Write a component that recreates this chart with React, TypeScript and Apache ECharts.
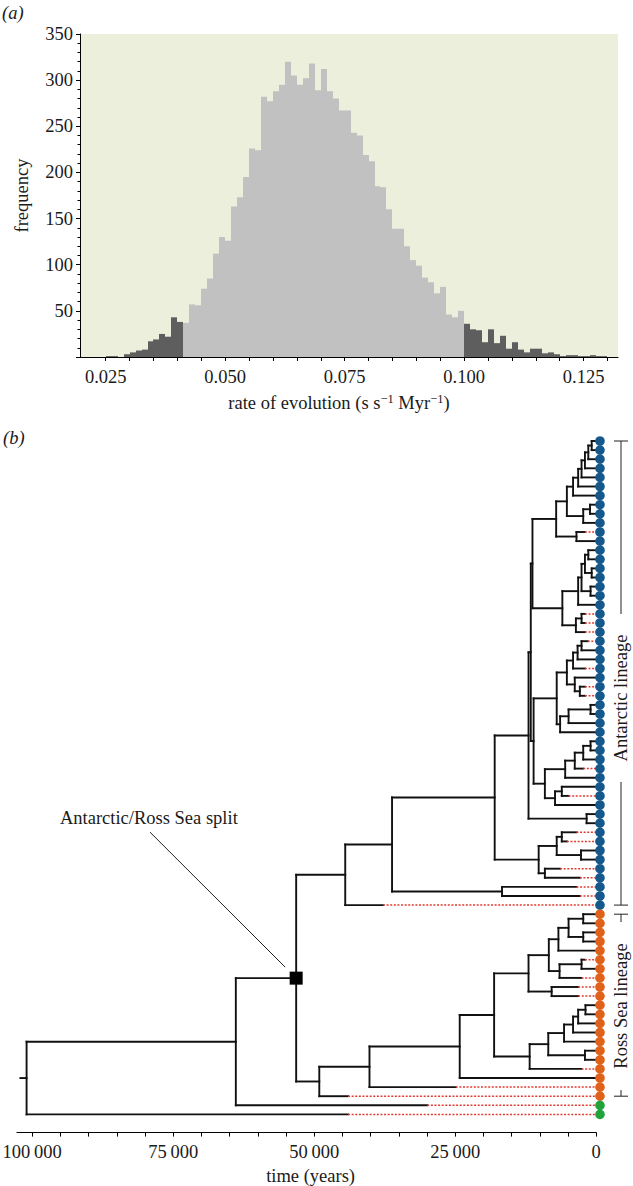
import React, { useEffect, useRef } from "react";
import * as echarts from "echarts";

// ---------- panel (a): histogram of rates ----------
const binStart = 0.025;
const binWidth = 0.00125;
const hpdLow = 0.04125;
const hpdHigh = 0.1;
const binCounts = [
  1, 1, 0, 3, 5, 7, 8, 17, 19, 25, 22, 43, 38,
  37, 57, 56, 74, 85, 112, 130, 126, 163, 173, 195, 226, 224, 282, 277, 288, 295, 320,
  305, 295, 302, 318, 289, 312, 288, 280, 267, 267, 243, 240, 219, 212, 185, 184, 160,
  139, 139, 120, 105, 99, 86, 81, 69, 76, 46, 43, 50,
  36, 30, 29, 16, 30, 15, 23, 9, 16, 8, 5, 9, 9, 4, 5, 3, 1, 2, 2, 1, 1, 2, 1, 1,
];
const rateLabels = [0.025, 0.05, 0.075, 0.1, 0.125];
const rateTicks = [0.025, 0.03, 0.035, 0.04, 0.045, 0.05, 0.055, 0.06, 0.065, 0.07, 0.075, 0.08, 0.085, 0.09, 0.095, 0.1, 0.105, 0.11, 0.115, 0.12, 0.125, 0.13];

// ---------- panel (b): dated tree ----------
const timeLabels = [0, 25000, 50000, 75000, 100000];
const timeTicks = [0, 5000, 10000, 15000, 20000, 25000, 30000, 35000, 40000, 45000, 50000, 55000, 60000, 65000, 70000, 75000, 80000, 85000, 90000, 95000, 100000];

// leaf groups, top to bottom: A = Antarctic, R = Ross Sea, O = outgroup
const leafGroups = [
  ..."AAAAAAAAAAAAAAAAAAAAAAAAAAAAAAAAAAAAAAAAAAAAAAAAAAAA",
  ..."RRRRRRRRRRRRRRRRRRRRR",
  ..."OO",
];
// sampling age of each leaf (years before present), top to bottom
const leafTips = [
  0, 0, 0, 0, 0, 0, 0, 0, 0, 0, 2000, 0, 0, 0, 0, 0, 0, 0, 0, 2000, 2000, 2000,
  1500, 0, 0, 2000, 0, 2000, 2000, 0, 0, 0, 0, 0, 0, 0, 2300, 0, 0, 4900, 0, 0, 0,
  3500, 5200, 0, 0, 6400, 2900, 3500, 2900, 37800,
  0, 0, 0, 0, 0, 2000, 0, 2600, 3200, 3200, 0, 0, 0, 0, 0, 0, 0, 2600, 0, 24900, 44000,
  29950, 44000,
];
// [node, age (years), upper child, lower child]; numbers are leaf indices
const treeNodes: [string, number, string | number, string | number][] = [
  ["n1", 800, 0, 1], ["n2", 1400, "n1", 2], ["n3", 2000, "n2", 3], ["n4", 2600, "n3", 4],
  ["n5", 3200, "n4", 5], ["n6", 4100, "n5", 6], ["c78", 1100, 7, 8], ["c789", 2300, "c78", 9],
  ["n7", 5200, "n6", "c789"], ["c1011", 3500, 10, 11], ["n8", 7100, "n7", "c1011"],
  ["w1213", 1400, 12, 13], ["w1415", 800, 14, 15], ["w1215", 2000, "w1213", "w1415"],
  ["w1617", 1000, 16, 17], ["w1", 2600, "w1215", "w1617"], ["w", 3200, "w1", 18],
  ["y1920", 2600, 19, 20], ["y", 3600, "y1920", 21], ["x", 6000, "w", "y"],
  ["nbig", 11300, "n8", "x"],
  ["m2223", 2600, 22, 23], ["m2224", 3300, "m2223", 24], ["m2225", 4100, "m2224", 25],
  ["m2728", 2900, 27, 28], ["m2628", 3800, 26, "m2728"], ["m1", 5200, "m2225", "m2628"],
  ["q2930", 1000, 29, 30], ["q31", 4900, "q2930", 31], ["q", 6400, "q31", 32],
  ["n70", 7000, "m1", "q"],
  ["r3334", 1000, 33, 34], ["r35", 2300, "r3334", 35], ["r36", 3800, "r35", 36], ["r1", 5500, "r36", 37],
  ["r3839", 6100, 38, 39], ["r2", 7300, "r3839", 40], ["n91", 9100, "r1", "r2"],
  ["n111", 11100, "n70", "n91"], ["n116", 11600, "nbig", "n111"],
  ["c4142", 1700, 41, 42], ["n12", 12000, "n116", "c4142"],
  ["c4344", 6100, 43, 44], ["c4546", 2700, 45, 46], ["n7a", 7000, "c4344", "c4546"],
  ["c4748", 9100, 47, 48], ["n10", 10200, "n7a", "c4748"],
  ["n18", 18000, "n12", "n10"], ["c4950", 16700, 49, 50], ["n36", 36200, "n18", "c4950"],
  ["n44", 44500, "n36", 51],
  ["s5253", 2300, 52, 53], ["s5455", 2300, 54, 55], ["s5255", 4900, "s5253", "s5455"],
  ["s1b", 6700, "s5255", 56], ["s5758", 2600, 57, 58], ["s1c", 6500, "s5758", 59],
  ["s1a", 8400, "s1b", "s1c"], ["s6061", 7900, 60, 61], ["s1", 12000, "s1a", "s6061"],
  ["s6263", 1900, 62, 63], ["s6", 3200, "s6263", 64], ["s5", 4100, "s6", 65], ["s4", 5700, "s5", 66],
  ["s6768", 2000, 67, 68], ["s3", 8500, "s4", "s6768"], ["s2", 11800, "s3", 69],
  ["r18", 18100, "s1", "s2"], ["r24", 24200, "r18", 70], ["r40", 40200, "r24", 71],
  ["r49", 49100, "r40", 72],
  ["split", 53200, "n44", "r49"], ["a64", 63900, "split", 73], ["root", 101000, "a64", 74],
];
const rootStubAge = 102100;
const dotAge = -670;
const groupColors: Record<string, string> = { A: "#15598c", R: "#e0621a", O: "#1fa33a" };
const splitLabel = "Antarctic/Ross Sea split";

const FONT = "Liberation Serif";
const FS = 18.5;

function buildTree() {
  const map = new Map(treeNodes.map((n) => [n[0], n]));
  const yMemo = new Map<string, number>();
  const yOf = (c: string | number): number => {
    if (typeof c === "number") return c;
    if (yMemo.has(c)) return yMemo.get(c)!;
    const n = map.get(c)!;
    const v = (yOf(n[2]) + yOf(n[3])) / 2;
    yMemo.set(c, v);
    return v;
  };
  const ageOf = (c: string | number) => (typeof c === "number" ? leafTips[c] : map.get(c)![1]);
  const segs: number[][] = [];
  for (const n of treeNodes) {
    const age = n[1];
    segs.push([age, yOf(n[2]), age, yOf(n[3]), 0]);
    for (const c of [n[2], n[3]]) {
      const y = yOf(c);
      segs.push([age, y, ageOf(c), y, 0]);
      if (typeof c === "number" && leafTips[c] > 0) segs.push([leafTips[c], y, dotAge, y, 1]);
    }
  }
  segs.push([rootStubAge, yOf("root"), map.get("root")![1], yOf("root"), 0]);
  return { segs, yOf, ageOf };
}

export default function App() {
  const ref = useRef<HTMLDivElement>(null);
  useEffect(() => {
    if (!ref.current) return;
    const chart = echarts.init(ref.current, undefined, { renderer: "svg" });
    const { segs, yOf, ageOf } = buildTree();
    const bins = binCounts.map((c, k) => {
      const s = binStart + k * binWidth;
      const e = s + binWidth;
      const dark = s < hpdLow - 1e-9 || s >= hpdHigh - 1e-9 ? 1 : 0;
      return [s, e, c, dark];
    });
    const dots = leafGroups.map((g, i) => ({ value: [dotAge, i], itemStyle: { color: groupColors[g], opacity: 1 } }));
    const labelStyle = { fontFamily: FONT, fontSize: FS, color: "#1a1a1a" };

    chart.setOption({
      animation: false,
      backgroundColor: "#ffffff",
      textStyle: { fontFamily: FONT },
      grid: [
        { left: 80, top: 34, width: 538, height: 323, show: true, backgroundColor: "#ECEFDB", borderWidth: 0, containLabel: false, outerBoundsMode: "none" },
        { left: 17, top: 431.9, width: 579.2, height: 700.7, show: false, containLabel: false, outerBoundsMode: "none" },
      ],
      xAxis: [
        {
          gridIndex: 0, type: "value", min: 0.019622, max: 0.1322,
          axisLine: { onZero: false, lineStyle: { color: "#000", width: 1 } },
          axisTick: { show: true, length: 4, customValues: rateTicks, lineStyle: { color: "#000" } },
          axisLabel: { ...labelStyle, margin: 10, customValues: rateLabels, formatter: (v: number) => v.toFixed(3) },
          splitLine: { show: false },
          name: "rate of evolution (s s{sup|\u22121} Myr{sup|\u22121})",
          nameLocation: "middle", nameGap: 35,
          nameTextStyle: {
            ...labelStyle, padding: [0, 20, 0, 0],
            rich: { sup: { fontFamily: FONT, fontSize: 12.5, color: "#1a1a1a", verticalAlign: "top", lineHeight: 22 } },
          },
        },
        {
          gridIndex: 1, type: "value", min: 0, max: 102700, inverse: true,
          axisLine: { onZero: false, lineStyle: { color: "#000", width: 1.2 } },
          axisTick: { show: true, length: 4, customValues: timeTicks, lineStyle: { color: "#000" } },
          axisLabel: {
            ...labelStyle, margin: 10, customValues: timeLabels,
            formatter: (v: number) => (v === 0 ? "0" : `${Math.round(v / 1000)}\u2009000`),
          },
          splitLine: { show: false },
          name: "time (years)", nameLocation: "middle", nameGap: 33,
          nameTextStyle: { ...labelStyle, padding: [0, 0, 0, 8] },
        },
      ],
      yAxis: [
        {
          gridIndex: 0, type: "value", min: 0, max: 350, interval: 50,
          axisLine: { show: true, onZero: false, lineStyle: { color: "#000", width: 1 } },
          axisTick: { show: true, length: 4, lineStyle: { color: "#000" } },
          minorTick: { show: true, splitNumber: 5, length: 2.5, lineStyle: { color: "#000" } },
          axisLabel: { ...labelStyle, margin: 7, formatter: (v: number) => (v === 0 ? "" : String(v)) },
          splitLine: { show: false },
          name: "frequency", nameLocation: "middle", nameGap: 49, nameTextStyle: labelStyle,
        },
        { gridIndex: 1, type: "value", min: -1, max: 76, inverse: true, show: false },
      ],
      series: [
        {
          type: "custom", xAxisIndex: 0, yAxisIndex: 0, clip: false,
          encode: { x: [0, 1], y: 2 },
          data: bins,
          renderItem: (params: any, api: any) => {
            const p0 = api.coord([api.value(0), api.value(2)]);
            const p1 = api.coord([api.value(1), 0]);
            const x0 = Math.round(p0[0]);
            const x1 = Math.round(p1[0]);
            const fill = api.value(3) ? "#5e5e5e" : "#c1c1c1";
            return {
              type: "rect",
              shape: { x: x0, y: p0[1], width: x1 - x0, height: p1[1] - p0[1] },
              style: { fill },
            };
          },
        },
        {
          type: "custom", xAxisIndex: 1, yAxisIndex: 1, clip: false,
          encode: { x: [0, 2], y: [1, 3] },
          data: segs,
          z: 2,
          renderItem: (params: any, api: any) => {
            const a = api.coord([api.value(0), api.value(1)]);
            const b = api.coord([api.value(2), api.value(3)]);
            const dashed = api.value(4) === 1;
            return {
              type: "line",
              shape: { x1: a[0], y1: a[1], x2: b[0], y2: b[1] },
              style: dashed
                ? { stroke: "#e23a30", lineWidth: 1.5, lineDash: [2, 1.6] }
                : { stroke: "#111", lineWidth: 1.9, lineCap: "square" },
            };
          },
        },
        {
          type: "scatter", xAxisIndex: 1, yAxisIndex: 1, clip: false, z: 3,
          symbol: "circle", symbolSize: 9.6, data: dots, itemStyle: { opacity: 1 },
        },
        {
          type: "scatter", xAxisIndex: 1, yAxisIndex: 1, clip: false, z: 4,
          symbol: "rect", symbolSize: 13, itemStyle: { color: "#000", opacity: 1 },
          data: [[ageOf("split"), yOf("split")]],
        },
      ],
    });

    const px = (t: number, y: number) => chart.convertToPixel({ gridIndex: 1 } as any, [t, y]) as number[];
    const sq = px(ageOf("split"), yOf("split"));
    const yA0 = px(0, 0)[1], yA1 = px(0, 51)[1], yR0 = px(0, 52)[1], yR1 = px(0, 72)[1];
    const bx = 621;
    const gapA = 698, gapR = 1006, gh = 84;
    const lineStyle = { stroke: "#222", lineWidth: 1 };
    const font = `${FS}px "${FONT}"`;
    const seg = (x1: number, y1: number, x2: number, y2: number) => ({ type: "line", shape: { x1, y1, x2, y2 }, style: lineStyle, z: 10 });
    chart.setOption({
      graphic: [
        { type: "text", x: 2, y: 13, style: { text: "(a)", font: `italic ${font}`, fill: "#1a1a1a", verticalAlign: "middle" } },
        { type: "text", x: 3, y: 438, style: { text: "(b)", font: `italic ${font}`, fill: "#1a1a1a", verticalAlign: "middle" } },
        { type: "text", x: 60, y: sq[1] - 160, style: { text: splitLabel, font, fill: "#1a1a1a", verticalAlign: "middle" } },
        seg(150, sq[1] - 146, sq[0] - 11, sq[1] - 11),
        seg(bx, yA0, bx, gapA - gh), seg(bx, gapA + gh, bx, yA1),
        seg(bx - 7, yA0, bx + 7, yA0), seg(bx - 7, yA1, bx + 7, yA1),
        seg(bx, yR0, bx, gapR - gh), seg(bx, gapR + gh, bx, yR1),
        seg(bx - 7, yR0, bx + 7, yR0), seg(bx - 7, yR1, bx + 7, yR1),
        { type: "text", x: bx, y: gapA, rotation: Math.PI / 2, style: { text: "Antarctic lineage", font, fill: "#1a1a1a", align: "center", verticalAlign: "middle" } },
        { type: "text", x: bx, y: gapR, rotation: Math.PI / 2, style: { text: "Ross Sea lineage", font, fill: "#1a1a1a", align: "center", verticalAlign: "middle" } },
      ],
    });
    return () => chart.dispose();
  }, []);
  return <div ref={ref} style={{ position: "absolute", left: 0, top: 0, width: 633, height: 1186 }} />;
}
